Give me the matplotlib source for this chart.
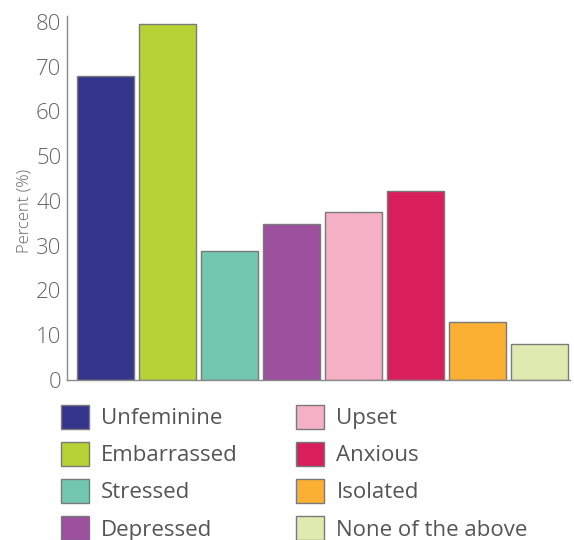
import matplotlib

matplotlib.use('Agg')
import matplotlib.pyplot as plt
from matplotlib.patches import Patch

# Survey responses, percent of respondents
feelings = ['Unfeminine', 'Embarrassed', 'Stressed', 'Depressed',
            'Upset', 'Anxious', 'Isolated', 'None of the above']
percent = [68, 79.5, 28.8, 34.8, 37.5, 42.3, 12.9, 8.0]
colors = ['#35358b', '#b5d334', '#73c7b0', '#9b4f9c',
          '#f5b0c5', '#d81e5b', '#fbb034', '#dfeab0']
yticks = [0, 10, 20, 30, 40, 50, 60, 70, 80]

plt.rcParams['font.family'] = ['Open Sans', 'DejaVu Sans']

fig = plt.figure(figsize=(5.74, 5.40), dpi=100)
ax = fig.add_axes([0.1167, 0.2963, 0.8763, 0.6747])

x = range(len(feelings))
ax.bar(x, percent, width=0.92, color=colors, edgecolor='#7a7a7a', linewidth=1)

ax.set_xlim(-0.62, 7.5)
ax.set_ylim(0, 81.4)
ax.set_xticks([])
ax.set_yticks(yticks)
ax.tick_params(axis='y', length=0, pad=4, labelsize=16, labelcolor='#666666')
for lbl in ax.get_yticklabels():
    lbl.set_fontweight('light')

for side in ['top', 'right']:
    ax.spines[side].set_visible(False)
for side in ['left', 'bottom']:
    ax.spines[side].set_color('#8a8a8a')
    ax.spines[side].set_linewidth(1)

ax.set_ylabel('Percent (%)', fontsize=12, color='#666666', fontweight='light')
ax.yaxis.set_label_coords(-0.068, 0.464)

handles = [Patch(facecolor=c, edgecolor='#7a7a7a', linewidth=1) for c in colors]
fig.legend(handles, feelings, ncol=2, loc='upper left',
           bbox_to_anchor=(0.106, 0.25), frameon=False,
           fontsize=16, labelcolor='#555555',
           handlelength=1.25, handleheight=1.25, handletextpad=0.55,
           labelspacing=0.58, columnspacing=2.65, borderpad=0, borderaxespad=0)

fig.savefig('out.png', dpi=100)
